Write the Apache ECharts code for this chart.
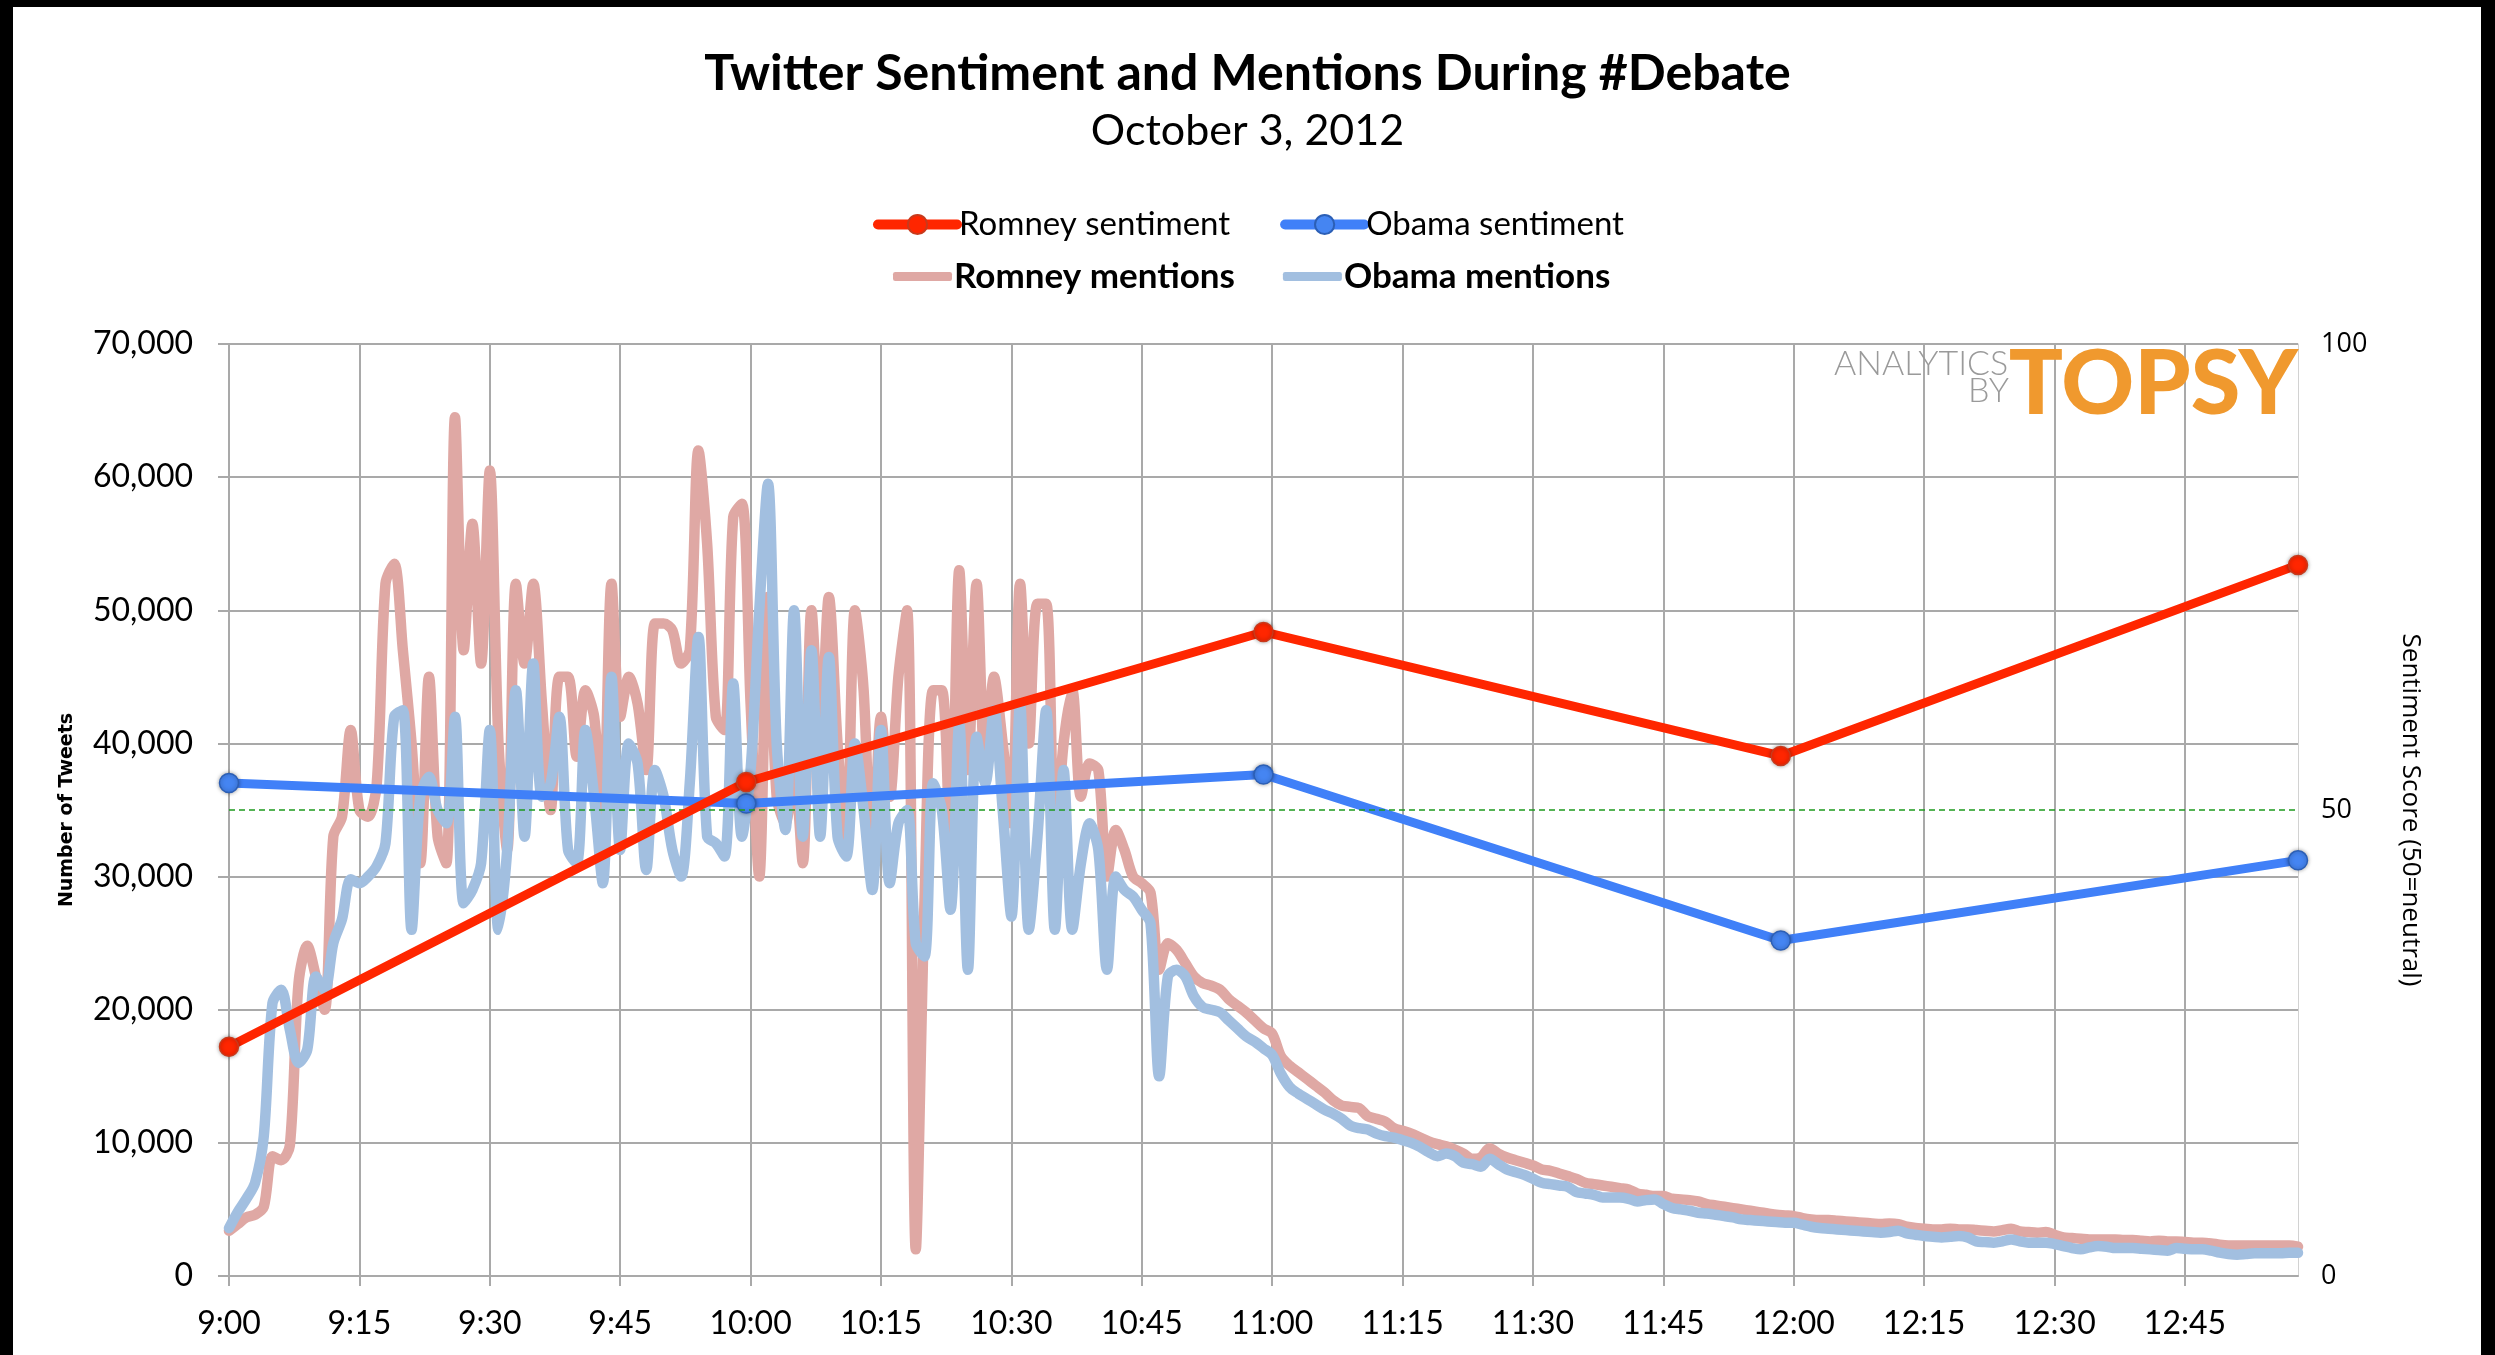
<!DOCTYPE html>
<html>
<head>
<meta charset="utf-8">
<title>Twitter Sentiment and Mentions During #Debate</title>
<script src="https://cdn.jsdelivr.net/npm/echarts@6/dist/echarts.min.js"></script>
<style>
  html, body { margin: 0; padding: 0; background: #000; }
  .paper { position: absolute; left: 13px; top: 7px; width: 2468px; height: 1348px; background: #fff; }
  #chart { position: absolute; left: 0; top: 0; width: 2495px; height: 1355px; }
</style>
</head>
<body>
<div class="paper"></div>
<div id="chart"></div>
<script>
// sentiment is sampled once an hour, mentions once a minute (9:00 - 12:58)
var sentimentTimes = ['9:00', '10:00', '11:00', '12:00', '12:58']
var romneySentiment = [24.6, 53.0, 69.1, 55.8, 76.3]
var obamaSentiment = [52.9, 50.7, 53.8, 36.0, 44.6]

var romneyMentions = [
  3400, 3900, 4400, 4600, 5200, 9000, 8700, 9800, 22000, 24800,
  22500, 20000, 33000, 34500, 41000, 35000, 34500, 37000, 52000, 53500,
  47000, 40000, 31000, 45000, 33000, 31000, 64500, 47000, 56500, 46000,
  60500, 40000, 32000, 52000, 46000, 52000, 43000, 35000, 45000, 45000,
  39000, 44000, 42000, 34000, 52000, 42000, 45000, 43000, 38000, 49000,
  49000, 48500, 46000, 47000, 62000, 55000, 42000, 41000, 57000, 58000,
  43000, 30000, 51000, 36000, 34000, 38000, 31000, 50000, 40000, 51000,
  40000, 32000, 50000, 44000, 29500, 42000, 36000, 45000, 50000, 2000,
  28000, 44000, 44000, 31000, 53000, 38000, 52000, 38000, 45000, 40000,
  34000, 52000, 40000, 50500, 50500, 32000, 40000, 44000, 36000, 38500,
  38000, 30000, 33500, 32000, 30000, 29500, 28800, 23000, 25000, 24500,
  23500, 22500, 22000, 21800, 21500, 20800, 20300, 19800, 19200, 18600,
  18200, 16500, 15800, 15300, 14800, 14300, 13800, 13200, 12800, 12700,
  12600, 12000, 11800, 11600, 11100, 10900, 10700, 10400, 10100, 9900,
  9750, 9500, 9200, 8800, 8900, 9600, 9200, 8900, 8700, 8500,
  8300, 8000, 7900, 7700, 7500, 7300, 7000, 6900, 6800, 6700,
  6600, 6500, 6200, 6100, 6000, 6000, 5800, 5750, 5700, 5600,
  5400, 5300, 5200, 5100, 5000, 4900, 4800, 4700, 4600, 4550,
  4500, 4350, 4250, 4200, 4200, 4150, 4100, 4050, 4000, 3950,
  3900, 3950, 3900, 3700, 3600, 3550, 3500, 3500, 3550, 3500,
  3500, 3450, 3400, 3350, 3450, 3550, 3350, 3300, 3250, 3300,
  3100, 2900, 2850, 2800, 2750, 2750, 2750, 2750, 2700, 2700,
  2650, 2600, 2650, 2600, 2600, 2550, 2500, 2500, 2450, 2350,
  2300, 2300, 2300, 2300, 2300, 2300, 2300, 2300, 2200
]

var obamaMentions = [
  3600, 4800, 5800, 7000, 10500, 20500, 21500, 18500, 16000, 17000,
  22500, 21500, 25000, 26800, 29800, 29500, 30000, 30800, 32500, 42000,
  42500, 26000, 36000, 37500, 35000, 34000, 42000, 28000, 29000, 31000,
  41000, 26000, 32000, 44000, 33000, 46000, 36000, 37000, 42000, 32000,
  31000, 41000, 36000, 29500, 45000, 32000, 40000, 38500, 30500, 38000,
  36000, 32000, 30000, 37000, 48000, 33000, 32500, 31500, 44500, 33000,
  38000, 50000, 59500, 40000, 33500, 50000, 33000, 47000, 33000, 46500,
  33000, 31500, 40000, 35000, 29000, 41000, 29500, 34000, 35000, 25000,
  24000, 37000, 35000, 27500, 41500, 23000, 40500, 37000, 42500, 35000,
  27000, 43000, 26000, 33000, 42500, 26000, 38000, 26000, 31000, 34000,
  32000, 23000, 30000, 29000, 28500, 27500, 26500, 15000, 22500, 23000,
  22500, 21000, 20200, 20000, 19800, 19200, 18600, 18000, 17600, 17100,
  16600, 15200, 14200, 13700, 13300, 12900, 12500, 12200, 11800, 11300,
  11100, 11000, 10700, 10500, 10400, 10200, 10000, 9700, 9300, 9000,
  9200, 9000, 8500, 8400, 8200, 8800, 8400, 8000, 7800, 7600,
  7300, 7000, 6900, 6800, 6700, 6300, 6200, 6100, 5900, 5900,
  5900, 5800, 5600, 5700, 5750, 5400, 5100, 5000, 4900, 4750,
  4700, 4600, 4500, 4400, 4250, 4200, 4150, 4100, 4050, 4000,
  4000, 3850, 3700, 3600, 3550, 3500, 3450, 3400, 3350, 3300,
  3250, 3300, 3400, 3200, 3100, 3000, 2950, 2900, 2950, 3000,
  2900, 2600, 2550, 2500, 2600, 2750, 2600, 2500, 2500, 2500,
  2400, 2250, 2100, 2000, 2150, 2250, 2200, 2100, 2100, 2100,
  2050, 2000, 1950, 1900, 2100, 2050, 2000, 2000, 1900, 1750,
  1650, 1600, 1650, 1700, 1700, 1700, 1700, 1750, 1750
]

// one category per minute, 9:00 .. 12:58
var minuteLabels = []
for (var i = 0; i < romneyMentions.length; i++) {
  var t = 9 * 60 + i
  var mm = t % 60
  minuteLabels.push(Math.floor(t / 60) + ':' + (mm < 10 ? '0' + mm : mm))
}

// grid lines, ticks and labels every quarter hour
function everyQuarter(index) {
  return index % 15 === 0
}

var gridColor = '#a9a9a9'
var font = 'Lato, "Open Sans", sans-serif'

var myChart = echarts.init(document.getElementById('chart'))
myChart.setOption({
  backgroundColor: 'transparent',
  animation: false,
  title: [{
    text: 'Twitter Sentiment and Mentions During #Debate',
    left: 'center',
    top: 44,
    textStyle: { fontFamily: font, fontWeight: 'bold', fontSize: 50, color: '#000' }
  }, {
    text: 'October 3, 2012',
    left: 'center',
    top: 105,
    textStyle: { fontFamily: font, fontWeight: 'normal', fontSize: 43, color: '#000' }
  }],
  legend: [{
    data: ['Romney sentiment', 'Obama sentiment'],
    left: 868,
    top: 203,
    itemWidth: 79,
    itemHeight: 24,
    itemGap: 50,
    lineStyle: { width: 10, cap: 'round' },
    textStyle: { fontFamily: font, fontSize: 33, color: '#000', padding: [0, 0, 0, -3] }
  }, {
    data: [
      { name: 'Romney mentions', icon: 'roundRect' },
      { name: 'Obama mentions', icon: 'roundRect' }
    ],
    left: 888,
    top: 254,
    itemWidth: 59,
    itemHeight: 9,
    itemGap: 48,
    textStyle: { fontFamily: font, fontSize: 35, fontWeight: 'bold', color: '#000', padding: [0, 0, 0, -3] }
  }],
  grid: { left: 229, right: 197, top: 344, bottom: 79 },
  xAxis: [{
    type: 'category',
    data: minuteLabels,
    boundaryGap: false,
    axisLine: { lineStyle: { color: gridColor, width: 2 } },
    axisTick: { interval: everyQuarter, length: 10, lineStyle: { color: gridColor, width: 2 } },
    axisLabel: { interval: everyQuarter, margin: 32, fontFamily: font, fontSize: 32, color: '#000' },
    splitLine: { show: true, interval: everyQuarter, lineStyle: { color: gridColor, width: 2 } }
  }, {
    type: 'category',
    data: sentimentTimes,
    boundaryGap: false,
    show: false
  }],
  yAxis: [{
    type: 'value',
    min: 0,
    max: 70000,
    interval: 10000,
    axisLine: { show: true, lineStyle: { color: gridColor, width: 2 } },
    axisTick: { show: true, length: 11, lineStyle: { color: gridColor, width: 2 } },
    axisLabel: {
      margin: 36,
      fontFamily: font,
      fontSize: 32,
      color: '#000',
      formatter: function (v) { return v.toLocaleString('en-US') }
    },
    splitLine: { lineStyle: { color: gridColor, width: 2 } },
    name: 'Number of Tweets',
    nameLocation: 'middle',
    nameRotate: 90,
    nameGap: 152,
    nameTextStyle: { fontFamily: '"DejaVu Sans", sans-serif', fontWeight: 'bold', fontSize: 19, color: '#000' }
  }, {
    type: 'value',
    position: 'right',
    min: 0,
    max: 100,
    interval: 50,
    axisLine: { show: true, lineStyle: { color: '#d2d2d2', width: 1 } },
    axisTick: { show: false },
    axisLabel: { margin: 23, fontFamily: '"Open Sans", sans-serif', fontSize: 27, color: '#000' },
    splitLine: { show: false },
    name: 'Sentiment Score (50=neutral)',
    nameLocation: 'middle',
    nameRotate: -90,
    nameGap: 99,
    nameTextStyle: { fontFamily: '"Open Sans", sans-serif', fontSize: 26, color: '#000' }
  }],
  graphic: [{
    type: 'text',
    right: 197,
    top: 340,
    z: 1,
    style: { text: 'TOPSY', fill: '#f0992e', font: '900 90px Lato, sans-serif' }
  }, {
    type: 'text',
    left: 1834,
    top: 347,
    z: 1,
    style: { text: 'ANALYTICS', fill: '#9a9a9a', font: '300 34px Lato, sans-serif' }
  }, {
    type: 'text',
    left: 1968,
    top: 374,
    z: 1,
    style: { text: 'BY', fill: '#9a9a9a', font: '300 34px Lato, sans-serif' }
  }],
  series: [{
    name: 'Romney mentions',
    type: 'line',
    data: romneyMentions,
    symbol: 'none',
    smooth: 0.3,
    lineStyle: { color: '#dfa8a4', width: 10.5, cap: 'round', join: 'round' },
    itemStyle: { color: '#dfa8a4' },
    z: 2
  }, {
    name: 'Obama mentions',
    type: 'line',
    data: obamaMentions,
    symbol: 'none',
    smooth: 0.3,
    lineStyle: { color: '#a2bfe0', width: 10.5, cap: 'round', join: 'round' },
    itemStyle: { color: '#a2bfe0' },
    z: 3
  }, {
    name: 'Obama sentiment',
    type: 'line',
    xAxisIndex: 1,
    yAxisIndex: 1,
    data: obamaSentiment,
    symbol: 'circle',
    symbolSize: 19,
    lineStyle: { color: '#4080f8', width: 9 },
    itemStyle: { color: '#4585f2', borderColor: '#2c5fb5', borderWidth: 1.5, shadowBlur: 4, shadowColor: 'rgba(0,0,0,0.35)' },
    z: 4,
    markLine: {
      silent: true,
      symbol: ['none', 'none'],
      label: { show: false },
      lineStyle: { color: '#1d9b1d', type: [6, 4], width: 1.5 },
      data: [{ yAxis: 50 }]
    }
  }, {
    name: 'Romney sentiment',
    type: 'line',
    xAxisIndex: 1,
    yAxisIndex: 1,
    data: romneySentiment,
    symbol: 'circle',
    symbolSize: 19,
    lineStyle: { color: '#ff2600', width: 9 },
    itemStyle: { color: '#ff2600', borderColor: '#c83a1c', borderWidth: 1.5, shadowBlur: 4, shadowColor: 'rgba(0,0,0,0.35)' },
    z: 5
  }]
})
</script>
</body>
</html>
